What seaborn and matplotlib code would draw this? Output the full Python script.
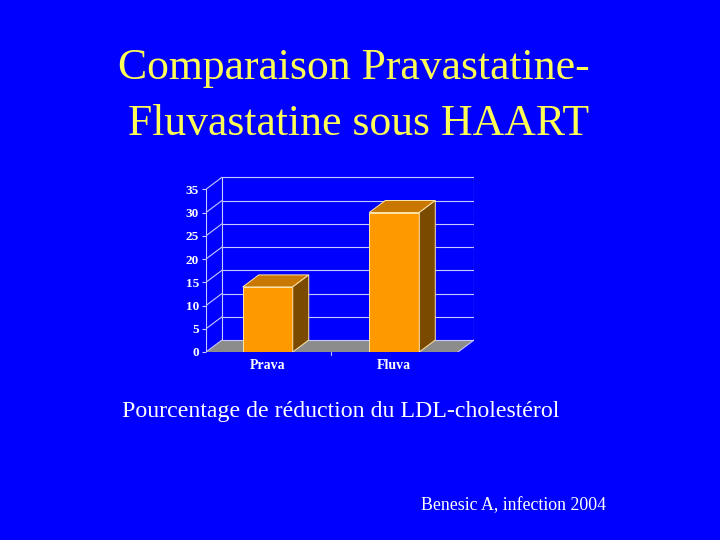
import matplotlib
matplotlib.use("Agg")
import matplotlib.pyplot as plt
import seaborn as sns
import pandas as pd
from matplotlib.patches import Polygon

categories = ["Prava", "Fluva"]
values = [14, 30]
yticks = [0, 5, 10, 15, 20, 25, 30, 35]
title_lines = ["Comparaison Pravastatine-", "Fluvastatine sous HAART"]
caption = "Pourcentage de réduction du LDL-cholestérol"
source = "Benesic A, infection 2004"

BG = "#0000FF"
GRID = "#C8C8FF"
FRONT = "#FF9900"
TOP = "#C87800"
SIDE = "#7A4A00"
EDGE = "#FFE6A8"
FLOOR = "#8C8C8C"

sns.set_theme(style="white")
plt.rcParams["font.family"] = ["Liberation Serif", "DejaVu Serif"]

fig = plt.figure(figsize=(7.2, 5.4), dpi=100, facecolor=BG)
W, H = 720, 540
ax = fig.add_axes([206 / W, (H - 352) / H, (474 - 206) / W, (352 - 176) / H])
ax.set_facecolor(BG)
ax.patch.set_alpha(0)

df = pd.DataFrame({"cat": categories, "val": values})

XL, XR = -0.488, 1.63
YT = 37.85
DX, DY = 0.1265, 2.58

# floor
ax.add_patch(Polygon([(XL, 0), (XR - DX, 0), (XR, DY), (XL + DX, DY)],
                     closed=True, facecolor=FLOOR, edgecolor="none", zorder=0.5))
# back wall gridlines
for k in yticks:
    ax.plot([XL + DX, XR], [k + DY, k + DY], color=GRID, lw=0.8, zorder=0.6)
    ax.plot([XL, XL + DX], [k, k + DY], color=GRID, lw=0.8, zorder=0.6)
ax.plot([XL + DX, XL + DX], [DY, yticks[-1] + DY], color=GRID, lw=0.8, zorder=0.6)
ax.plot([XR, XR], [DY, yticks[-1] + DY], color=GRID, lw=0.8, zorder=0.6)
ax.plot([XL, XL], [0, yticks[-1]], color=GRID, lw=0.8, zorder=0.6)
ax.plot([XR - DX, XR], [0, DY], color=GRID, lw=0.8, zorder=0.6)

sns.barplot(data=df, x="cat", y="val", color=FRONT, width=0.395, saturation=1,
            edgecolor=EDGE, linewidth=0.7, ax=ax, zorder=2)

for p in ax.patches:
    if not hasattr(p, "get_x") or p.get_width() == 0:
        continue
    if p.get_facecolor()[:3] != matplotlib.colors.to_rgb(FRONT):
        continue
    x0, w, h = p.get_x(), p.get_width(), p.get_height()
    x1 = x0 + w
    top = Polygon([(x0, h), (x1, h), (x1 + DX, h + DY), (x0 + DX, h + DY)],
                  closed=True, facecolor=TOP, edgecolor=EDGE, lw=0.7, zorder=2)
    side = Polygon([(x1, 0), (x1 + DX, DY), (x1 + DX, h + DY), (x1, h)],
                   closed=True, facecolor=SIDE, edgecolor=EDGE, lw=0.7, zorder=2)
    ax.add_patch(top)
    ax.add_patch(side)

ax.set_xlim(XL, XR)
ax.set_ylim(0, YT)
ax.set_yticks(yticks)
ax.set_yticklabels([str(t) for t in yticks], fontsize=9.5, fontweight="bold", color="white")
ax.set_xticks([0, 1])
ax.set_xticklabels(categories, fontsize=10, fontweight="bold", color="white")
ax.tick_params(axis="y", length=3, color=GRID, width=0.8, pad=2, left=True)
ax.tick_params(axis="x", length=0, pad=5)
ax.plot([0.5, 0.5], [0, -0.6], color=GRID, lw=0.8, clip_on=False)
ax.set_xlabel("")
ax.set_ylabel("")
for s in ax.spines.values():
    s.set_visible(False)

fig.text(354 / W, 1 - 79 / H, title_lines[0], ha="center", va="baseline",
         fontsize=31.5, color="#FFFF55")
fig.text(359 / W, 1 - 135 / H, title_lines[1], ha="center", va="baseline",
         fontsize=31.5, color="#FFFF55")
fig.text(122 / W, 1 - 417 / H, caption, ha="left", va="baseline",
         fontsize=17.2, color="white")
fig.text(606 / W, 1 - 510 / H, source, ha="right", va="baseline",
         fontsize=12.9, color="white")

fig.savefig("out.png", dpi=100, facecolor=BG)
